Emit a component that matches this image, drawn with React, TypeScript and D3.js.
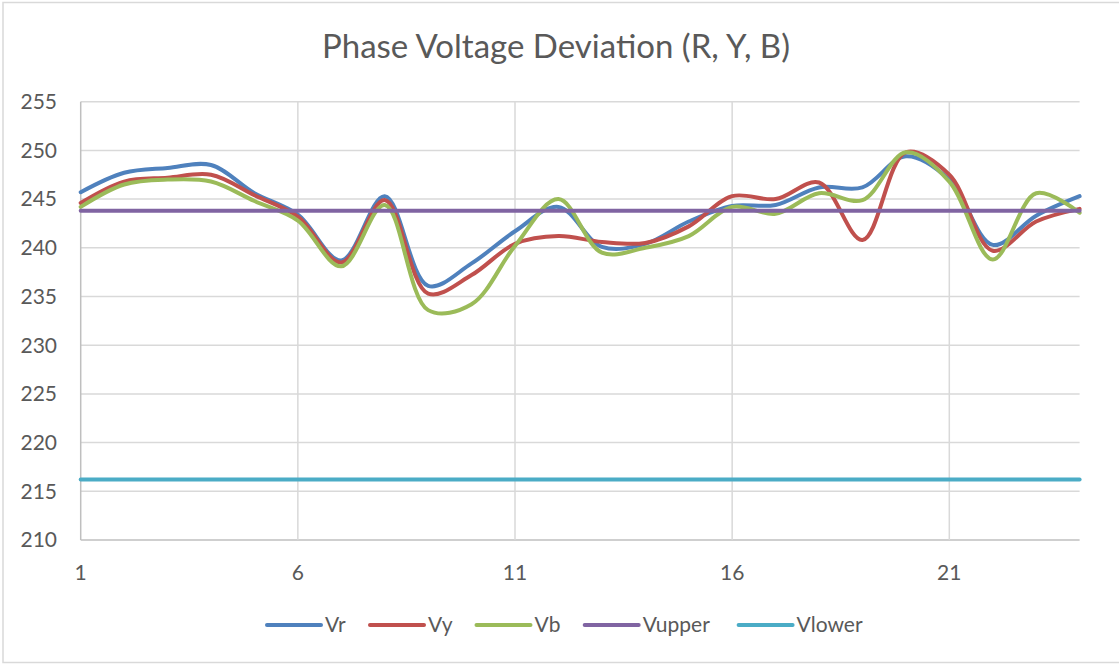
import React from "react";
import * as d3 from "d3";

const hours = d3.range(1, 25);
const vr = [245.7, 247.7, 248.2, 248.5, 245.6, 243.4, 238.7, 245.3, 236.1, 238.4, 241.7, 244.2, 240.1, 240.4, 242.7, 244.3, 244.4, 246.2, 246.2, 249.4, 247.0, 240.3, 243.3, 245.3];
const vy = [244.6, 246.8, 247.2, 247.5, 245.4, 243.2, 238.5, 244.9, 235.3, 237.2, 240.4, 241.2, 240.6, 240.5, 242.2, 245.3, 245.0, 246.7, 240.8, 249.8, 247.5, 239.7, 242.7, 244.0];
const vb = [244.2, 246.5, 247.0, 246.8, 244.8, 242.8, 238.1, 244.4, 233.6, 234.2, 240.2, 245.0, 239.5, 240.0, 241.2, 244.2, 243.5, 245.6, 244.9, 249.8, 246.8, 238.8, 245.6, 243.6];
const vupper = hours.map(() => 243.8);
const vlower = hours.map(() => 216.2);
const yTicks = [210, 215, 220, 225, 230, 235, 240, 245, 250, 255];
const xTicks = [1, 6, 11, 16, 21];

const seriesList = [
  { name: "Vr", values: vr, color: "#4F81BD" },
  { name: "Vy", values: vy, color: "#C0504D" },
  { name: "Vb", values: vb, color: "#9BBB59" },
  { name: "Vupper", values: vupper, color: "#8064A2" },
  { name: "Vlower", values: vlower, color: "#4BACC6" },
];

const W = 1119;
const H = 664;
const left = 80.7, right = 1079.6, top = 101.7, bottom = 540;
const FONT = "Lato, 'Open Sans', sans-serif";
const TXT = "#595959";

export default function App() {
  const x = d3.scaleLinear().domain([1, 24]).range([left, right]);
  const y = d3.scaleLinear().domain([210, 255]).range([bottom, top]);
  const line = d3
    .line<number>()
    .x((_, i) => x(hours[i]))
    .y((d) => y(d))
    .curve(d3.curveCatmullRom.alpha(0.5));

  const legendX = [267, 370, 476.5, 584.7, 738.6];

  return (
    <svg width={W} height={H} style={{ position: "absolute", left: 0, top: 0, background: "#fff" }}>
      <rect x={3} y={2.5} width={W + 5} height={660} fill="#fff" stroke="#d9d9d9" strokeWidth={1.5} />
      <text x={556} y={58} textAnchor="middle" fontFamily={FONT} fontSize={33} fill={TXT}>
        Phase Voltage Deviation (R, Y, B)
      </text>
      {yTicks.map((t) => (
        <line key={"gy" + t} x1={left} x2={right} y1={y(t)} y2={y(t)} stroke={t === 210 ? "#bfbfbf" : "#d9d9d9"} strokeWidth={1.5} />
      ))}
      {xTicks.map((t) => (
        <line key={"gx" + t} x1={x(t)} x2={x(t)} y1={top} y2={bottom} stroke={t === 1 ? "#bfbfbf" : "#d9d9d9"} strokeWidth={1.5} />
      ))}
      {yTicks.map((t) => (
        <text key={"ly" + t} x={57} y={y(t)} dy="0.35em" textAnchor="end" fontFamily={FONT} fontSize={21} fill={TXT}>
          {t}
        </text>
      ))}
      {xTicks.map((t) => (
        <text key={"lx" + t} x={x(t)} y={573} dy="0.35em" textAnchor="middle" fontFamily={FONT} fontSize={21} fill={TXT}>
          {t}
        </text>
      ))}
      {seriesList.map((s) => (
        <path key={s.name} d={line(s.values) || ""} fill="none" stroke={s.color} strokeWidth={4} strokeLinejoin="round" strokeLinecap="round" />
      ))}
      {seriesList.map((s, i) => (
        <g key={"lg" + s.name}>
          <line x1={legendX[i]} x2={legendX[i] + 54} y1={625} y2={625} stroke={s.color} strokeWidth={4} strokeLinecap="round" />
          <text x={legendX[i] + 58} y={625} dy="0.35em" fontFamily={FONT} fontSize={21} fill={TXT}>
            {s.name}
          </text>
        </g>
      ))}
    </svg>
  );
}
